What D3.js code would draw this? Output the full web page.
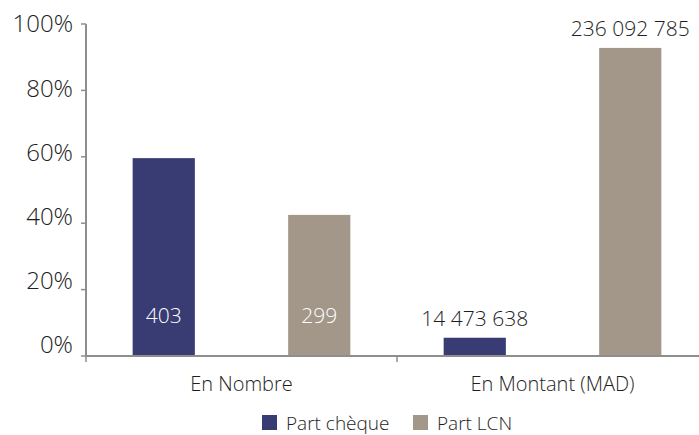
<!DOCTYPE html>
<meta charset="utf-8">
<script src="https://d3js.org/d3.v7.min.js"></script>
<style>
body { margin: 0; background: #fff; }
text { font-family: "Open Sans", "Noto Sans", sans-serif; fill: #1e1e1e; font-weight: 300; }
</style>
<body>
<div id="chart"></div>
<script>
// data
var categories = ["En Nombre", "En Montant (MAD)"];
var series = ["Part chèque", "Part LCN"];
var partCheque = [59.6, 5.5];
var partLCN = [42.5, 92.8];
var labelsCheque = ["403", "14 473 638"];
var labelsLCN = ["299", "236 092 785"];
var yTicks = [0, 20, 40, 60, 80, 100];
var colors = ["#383c72", "#a39789"];

var W = 699, H = 435;
var mLeft = 86, mTop = 24, mBottom = 356, mRight = 708;

var svg = d3.select("#chart").append("svg")
    .attr("width", W).attr("height", H);

var y = d3.scaleLinear().domain([0, 100]).range([mBottom, mTop]);
// tick labels in the original drift a bit above their ticks lower down
var yLab = d3.scaleLinear().domain([0, 100]).range([345, 24]);

var x0 = d3.scaleBand().domain(categories).range([mLeft, mRight]);
var x1 = d3.scaleBand().domain(series).range([0, x0.bandwidth()])
    .paddingInner(0.6).paddingOuter(0.3);

var rows = categories.map(function(c, i) {
  return [
    {cat: c, s: series[0], v: partCheque[i], lab: labelsCheque[i]},
    {cat: c, s: series[1], v: partLCN[i], lab: labelsLCN[i]}
  ];
});

// bars
var g = svg.append("g");
rows.forEach(function(r) {
  g.selectAll(null).data(r).enter().append("rect")
    .attr("x", function(d) { return x0(d.cat) + x1(d.s); })
    .attr("y", function(d) { return y(d.v); })
    .attr("width", x1.bandwidth())
    .attr("height", function(d) { return y(0) - y(d.v); })
    .attr("fill", function(d) { return colors[series.indexOf(d.s)]; });

  g.selectAll(null).data(r).enter().append("text")
    .attr("x", function(d) { return x0(d.cat) + x1(d.s) + x1.bandwidth() / 2; })
    .attr("y", function(d) {
      // first group: label inside near the base, second: above the bar
      if (d.cat === categories[0]) return 316;
      return y(d.v) - 19;
    })
    .attr("dy", "0.35em")
    .attr("text-anchor", "middle")
    .style("font-size", "21px")
    .style("fill", function(d) { return d.cat === categories[0] ? "#fff" : "#1e1e1e"; })
    .text(function(d) { return d.lab; });
});

// y axis
var axisColor = "#8e8e8e";
svg.append("line")
  .attr("x1", mLeft).attr("x2", mLeft)
  .attr("y1", y(100)).attr("y2", mBottom + 1)
  .attr("stroke", axisColor).attr("stroke-width", 2);
svg.selectAll(".ytick").data(yTicks).enter().append("line")
  .attr("x1", mLeft - 5).attr("x2", mLeft)
  .attr("y1", function(d) { return y(d); })
  .attr("y2", function(d) { return y(d); })
  .attr("stroke", axisColor).attr("stroke-width", 1.5);
svg.selectAll(".ylab").data(yTicks).enter().append("text")
  .attr("x", 73)
  .attr("y", function(d) { return yLab(d); })
  .attr("dy", "0.35em")
  .attr("text-anchor", "end")
  .style("font-size", "24px")
  .text(function(d) { return d + "%"; });

// x axis
svg.append("line")
  .attr("x1", mLeft - 1).attr("x2", W)
  .attr("y1", mBottom).attr("y2", mBottom)
  .attr("stroke", axisColor).attr("stroke-width", 2);
svg.selectAll(".xtick").data(categories).enter().append("line")
  .attr("x1", function(d) { return x0(d); })
  .attr("x2", function(d) { return x0(d); })
  .attr("y1", mBottom).attr("y2", mBottom + 6)
  .attr("stroke", axisColor).attr("stroke-width", 1.5);
svg.selectAll(".xlab").data(categories).enter().append("text")
  .attr("x", function(d) { return x0(d) + x0.bandwidth() / 2; })
  .attr("y", 384)
  .attr("dy", "0.35em")
  .attr("text-anchor", "middle")
  .style("font-size", "20px")
  .text(function(d) { return d; });

// legend
var leg = svg.append("g");
var legX = [262, 413];
series.forEach(function(s, i) {
  leg.append("rect")
    .attr("x", legX[i]).attr("y", 415)
    .attr("width", 15).attr("height", 15)
    .attr("fill", colors[i]);
  leg.append("text")
    .attr("x", legX[i] + 24).attr("y", 423)
    .attr("dy", "0.35em")
    .style("font-size", "19px")
    .text(s);
});
</script>
</body>
